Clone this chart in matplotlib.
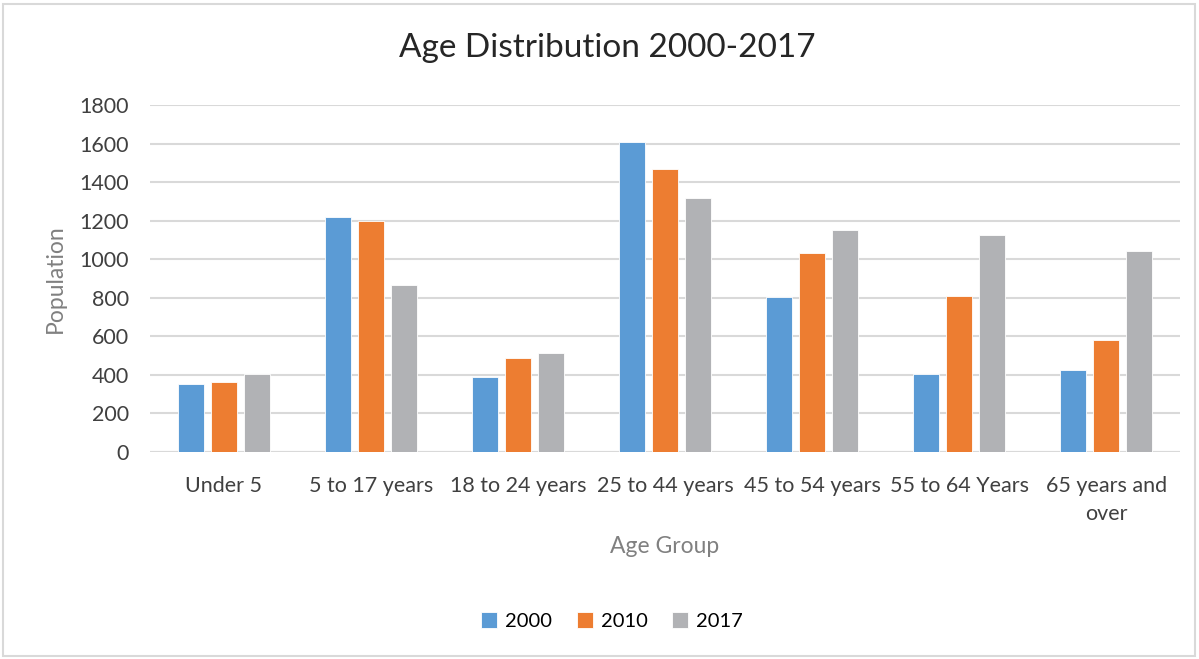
import numpy as np
import matplotlib
matplotlib.use("Agg")
import matplotlib.pyplot as plt
from matplotlib.patches import Rectangle

plt.rcParams['font.family'] = ['Lato', 'DejaVu Sans']

groups = ["Under 5", "5 to 17 years", "18 to 24 years", "25 to 44 years",
          "45 to 54 years", "55 to 64 Years", "65 years and\nover"]
years = ["2000", "2010", "2017"]
pop_2000 = [351, 1221, 389, 1608, 802, 407, 425]
pop_2010 = [365, 1197, 490, 1468, 1032, 808, 581]
pop_2017 = [405, 868, 512, 1316, 1152, 1128, 1045]
colors = ["#5B9BD5", "#ED7D31", "#B1B2B5"]

fig = plt.figure(figsize=(11.99, 6.59), dpi=100)
ax = fig.add_axes([150 / 1199, 1 - 452 / 659, 1030 / 1199, 347 / 659])

x = np.arange(len(groups))
w = 0.177
step = 0.224
for i, (vals, lab) in enumerate(zip([pop_2000, pop_2010, pop_2017], years)):
    ax.bar(x + (i - 1) * step, vals, width=w, color=colors[i], label=lab,
           edgecolor="white", linewidth=0.6, zorder=3)

ax.set_xlim(-0.5, len(groups) - 0.5)
ax.set_ylim(0, 1800)
ax.set_yticks(range(0, 1801, 200))
ax.yaxis.grid(True, color="#D9D9D9", linewidth=1.5, zorder=0)
for s in ax.spines.values():
    s.set_visible(False)
ax.tick_params(axis="both", length=0, labelsize=15.5, colors="#404040")
ax.tick_params(axis="y", pad=15)
ax.tick_params(axis="x", pad=17)
ax.set_xticks(x)
ax.set_xticklabels(groups, linespacing=1.55)
ax.axhline(0, color="#D9D9D9", linewidth=1.5, zorder=1)

ax.set_ylabel("Population", fontsize=16.5, color="#808080", labelpad=10)
ax.set_xlabel("Age Group", fontsize=16.5, color="#808080", labelpad=8)

fig.text(607 / 1199, 1 - 48 / 659, "Age Distribution 2000-2017", fontsize=24,
         color="#262626", ha="center", va="center")

fig.legend(loc="center", bbox_to_anchor=(612 / 1199, 1 - 621 / 659), ncol=3,
           frameon=False, fontsize=14.5, handlelength=0.8, handleheight=0.8,
           handletextpad=0.4, columnspacing=1.2)

fig.patches.append(Rectangle((3 / 1199, 3 / 659), 1192 / 1199, 652 / 659,
                             transform=fig.transFigure, fill=False,
                             edgecolor="#D9D9D9", linewidth=1.5))

fig.savefig("out.png", dpi=100)
